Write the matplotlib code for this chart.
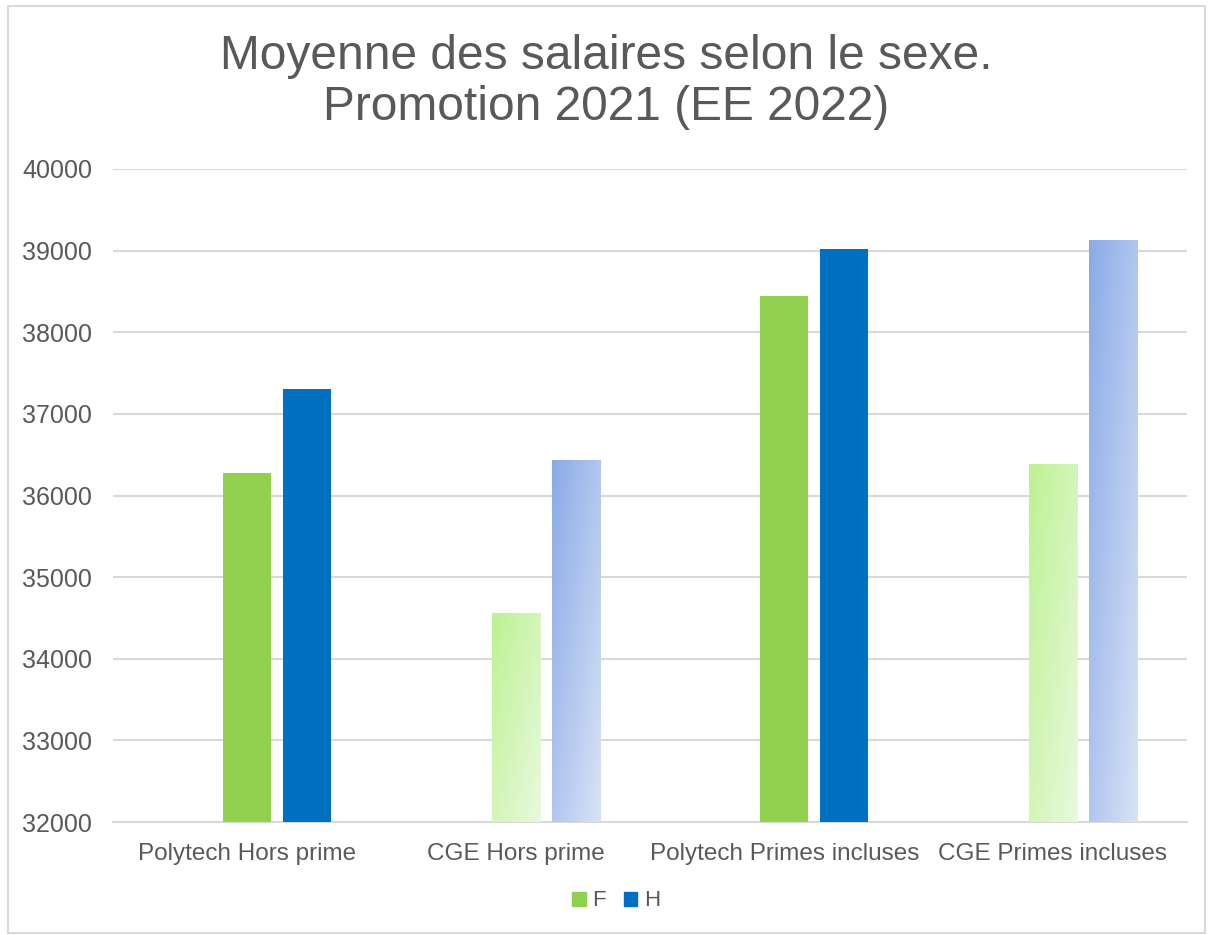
import numpy as np
import matplotlib
matplotlib.use("Agg")
import matplotlib.pyplot as plt
from matplotlib.colors import to_rgb
from matplotlib.patches import Rectangle, Patch

plt.rcParams['font.family'] = ['Liberation Sans', 'DejaVu Sans']

categories = ["Polytech Hors prime", "CGE Hors prime", "Polytech Primes incluses", "CGE Primes incluses"]
f_vals = [36270, 34560, 38440, 36390]
h_vals = [37310, 36440, 39020, 39130]
series = ["F", "H"]

# solid fill for Polytech, gradient fill for CGE
solid_f, solid_h = "#92D050", "#0070C0"
grad_f = ("#BDF293", "#E9F9DE")
grad_h = ("#8AAAE7", "#D8E3F6")
use_grad = [False, True, False, True]

text_col = "#595959"
grid_col = "#D9D9D9"
ymin, ymax = 32000, 40000


def gradient_fill(ax, bar, c0, c1):
    x0, y0 = bar.get_x(), bar.get_y()
    w, h = bar.get_width(), bar.get_height()
    n, m = 200, 40
    u = np.linspace(0, 1, m)[None, :]
    v = np.linspace(0, 1, n)[:, None]
    t = (u + v) / 2
    a, b = np.array(to_rgb(c0)), np.array(to_rgb(c1))
    img = a[None, None, :] + t[:, :, None] * (b - a)[None, None, :]
    bar.set_facecolor("none")
    im = ax.imshow(img, extent=[x0, x0 + w, y0, y0 + h], origin="upper",
                   aspect="auto", zorder=bar.get_zorder(), interpolation="bilinear")
    im.set_clip_path(bar)


fig = plt.figure(figsize=(12.13, 9.35), dpi=100)
ax = fig.add_axes([113 / 1213, 1 - 822 / 935, 1074 / 1213, 653 / 935])

x = np.arange(len(categories))
bw = 0.179
off = 0.2235

bars_f = ax.bar(x, np.array(f_vals) - ymin, bottom=ymin, width=bw, color=solid_f, zorder=3)
bars_h = ax.bar(x + off, np.array(h_vals) - ymin, bottom=ymin, width=bw, color=solid_h, zorder=3)

for i, g in enumerate(use_grad):
    if g:
        gradient_fill(ax, bars_f[i], *grad_f)
        gradient_fill(ax, bars_h[i], *grad_h)

ax.set_xlim(-0.5, len(categories) - 0.5)
ax.set_ylim(ymin, ymax)
ax.set_yticks(np.arange(ymin, ymax + 1, 1000))
ax.set_xticks(x)
ax.set_xticklabels(categories)
ax.tick_params(axis="both", length=0, labelcolor=text_col)
ax.tick_params(axis="y", pad=15, labelsize=18)
ax.tick_params(axis="x", pad=15, labelsize=17.5)
ax.grid(axis="y", color=grid_col, linewidth=1.5, zorder=0)
ax.set_axisbelow(True)
for s in ["top", "right", "left"]:
    ax.spines[s].set_visible(False)
ax.spines["bottom"].set_color(grid_col)
ax.spines["bottom"].set_linewidth(1.5)

fig.text(0.5, 1 - 82 / 935, "Moyenne des salaires selon le sexe.\nPromotion 2021 (EE 2022)",
         ha="center", va="center", fontsize=34.5, color=text_col, linespacing=1.15)

handles = [Patch(color=solid_f, label=series[0]), Patch(color=solid_h, label=series[1])]
fig.legend(handles=handles, loc="center", bbox_to_anchor=(616 / 1213, 1 - 901 / 935), ncol=2,
           frameon=False, fontsize=16, labelcolor=text_col, handlelength=0.6,
           handleheight=0.6, handletextpad=0.3, columnspacing=0.8)

fig.patches.append(Rectangle((8 / 1213, 0.002), 1 - 16 / 1213, 1 - 8 / 935,
                             transform=fig.transFigure, fill=False,
                             edgecolor=grid_col, linewidth=1.5))

fig.savefig("out.png", dpi=100)
